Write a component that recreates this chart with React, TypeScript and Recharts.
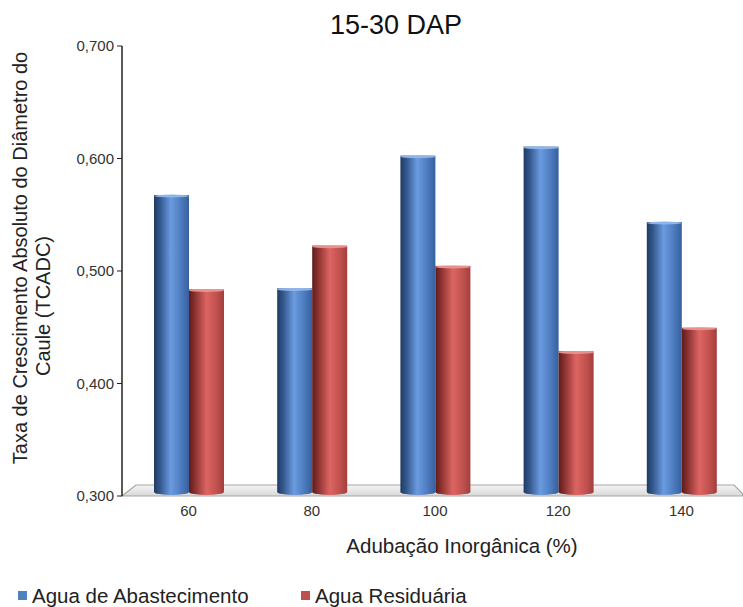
import { BarChart, Bar, XAxis, YAxis } from 'recharts'

const categories = ['60', '80', '100', '120', '140']
const abastecimento = [0.564, 0.481, 0.599, 0.607, 0.540]
const residuaria = [0.480, 0.519, 0.501, 0.425, 0.446]
const yTicks = [0.3, 0.4, 0.5, 0.6, 0.7]
const boundaryTicks = [1, 2, 3, 4]

const data = categories.map((c, i) => ({ c, a: abastecimento[i], r: residuaria[i] }))

const W = 743
const H = 530
const LEFT = 122
const PAD = 5
const TOP = 46
const BOTTOM = 496
const DEPTH = 4
const FONT = '"Liberation Sans", Arial, sans-serif'

// cylinder bar, lifted a little to sit on the 3d floor
function Cylinder(props: any) {
  const { x, y, width, height, grad, top } = props
  if (!height || height <= 0) return null
  const rx = width / 2
  const yy = y - DEPTH
  return (
    <g>
      <rect x={x} y={yy} width={width} height={height} fill={`url(#${grad})`} />
      <ellipse cx={x + rx} cy={yy + height} rx={rx} ry={3} fill={`url(#${grad})`} />
      <ellipse cx={x + rx} cy={yy + 1} rx={rx} ry={1.5} fill={top} />
    </g>
  )
}

function Floor() {
  return (
    <svg width={W} height={H} style={{ position: 'absolute', left: 0, top: 0 }}>
      <defs>
        <linearGradient id="gFloor" x1="0" y1="0" x2="0" y2="1">
          <stop offset="0%" stopColor="#f4f4f4" />
          <stop offset="100%" stopColor="#d9d9d9" />
        </linearGradient>
      </defs>
      <path
        d={`M${LEFT},${BOTTOM} L${LEFT + 14},${BOTTOM - 11} L${W - 9},${BOTTOM - 11} L${W - 1},${BOTTOM - 3} L${W},${BOTTOM} Z`}
        fill="url(#gFloor)"
        stroke="#a6a6a6"
        strokeWidth={1.2}
      />
    </svg>
  )
}

const legendItems = [
  { name: 'Agua de Abastecimento', color: '#4f81bd', x: 18 },
  { name: 'Agua Residuária', color: '#c0504d', x: 301 },
]

export default function App() {
  return (
    <div style={{ position: 'absolute', left: 0, top: 0, width: W, height: 607, background: '#fff', fontFamily: FONT }}>
      <Floor />
      <div style={{ position: 'absolute', left: 0, top: 0 }}>
        <BarChart
          width={W}
          height={H}
          data={data}
          margin={{ top: TOP, right: 0, left: LEFT - 60, bottom: H - BOTTOM - 30 }}
          barGap={0}
          barSize={35}
        >
          <defs>
            <linearGradient id="gBlue" x1="0" y1="0" x2="1" y2="0">
              <stop offset="0%" stopColor="#1f3a62" />
              <stop offset="18%" stopColor="#34598f" />
              <stop offset="48%" stopColor="#6b9be0" />
              <stop offset="80%" stopColor="#4a78bb" />
              <stop offset="100%" stopColor="#37609c" />
            </linearGradient>
            <linearGradient id="gRed" x1="0" y1="0" x2="1" y2="0">
              <stop offset="0%" stopColor="#5e1b1a" />
              <stop offset="18%" stopColor="#8e3331" />
              <stop offset="50%" stopColor="#dc6563" />
              <stop offset="80%" stopColor="#c0504d" />
              <stop offset="100%" stopColor="#a13e3c" />
            </linearGradient>
          </defs>
          <XAxis
            xAxisId="b"
            type="number"
            domain={[0, 5]}
            ticks={boundaryTicks}
            height={0}
            padding={{ left: PAD, right: 0 }}
            tick={false}
            tickSize={6}
            axisLine={{ stroke: '#7f7f7f', strokeWidth: 2 }}
            tickLine={{ stroke: '#333' }}
            allowDataOverflow
          />
          <XAxis
            dataKey="c"
            height={30}
            padding={{ left: PAD, right: 0 }}
            axisLine={false}
            tickLine={false}
            tickSize={0}
            tickMargin={9}
            tick={{ fill: '#333', fontSize: 15, fontFamily: FONT }}
          />
          <YAxis
            width={60}
            domain={[0.3, 0.7]}
            ticks={yTicks}
            allowDataOverflow
            tickFormatter={(v: number) => v.toFixed(3).replace('.', ',')}
            tick={{ fill: '#333', fontSize: 15, fontFamily: FONT }}
            tickSize={5}
            tickMargin={3}
            axisLine={{ stroke: '#222', strokeWidth: 1.5 }}
            tickLine={{ stroke: '#222' }}
          />
          <Bar dataKey="a" name="Agua de Abastecimento" isAnimationActive={false} shape={(p: any) => <Cylinder {...p} grad="gBlue" top="#8fb4e8" />} />
          <Bar dataKey="r" name="Agua Residuária" isAnimationActive={false} shape={(p: any) => <Cylinder {...p} grad="gRed" top="#e89290" />} />
        </BarChart>
      </div>
      <svg width={W} height={607} style={{ position: 'absolute', left: 0, top: 0, pointerEvents: 'none' }} fontFamily={FONT}>
        <text x={396} y={34} textAnchor="middle" fontSize={27} fill="#111">15-30 DAP</text>
        <text x={462} y={545} textAnchor="middle" dominantBaseline="central" fontSize={20.5} fill="#222">Adubação Inorgânica (%)</text>
        <text transform="translate(20,258) rotate(-90)" textAnchor="middle" dominantBaseline="central" fontSize={20} fill="#222">
          Taxa de Crescimento Absoluto do Diâmetro do
        </text>
        <text transform="translate(43,306) rotate(-90)" textAnchor="middle" dominantBaseline="central" fontSize={20} fill="#222">
          Caule (TCADC)
        </text>
        {legendItems.map((it) => (
          <g key={it.name}>
            <rect x={it.x} y={591} width={9} height={9} fill={it.color} />
            <text x={it.x + 14} y={595} dominantBaseline="central" fontSize={20.5} fill="#222">{it.name}</text>
          </g>
        ))}
      </svg>
    </div>
  )
}
